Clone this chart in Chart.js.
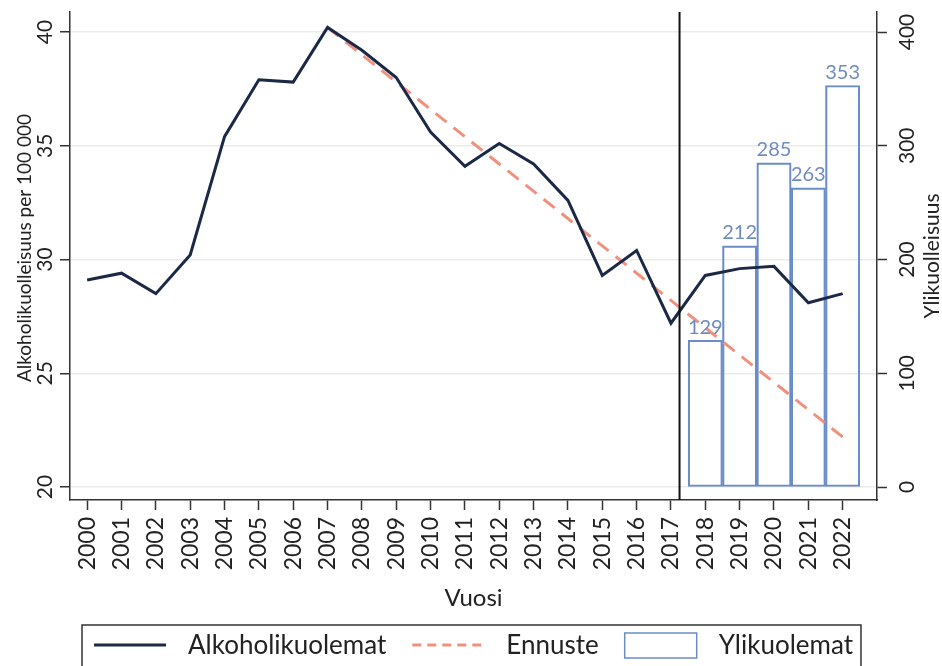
<!DOCTYPE html>
<html>
<head>
<meta charset="utf-8">
<script src="https://cdn.jsdelivr.net/npm/chart.js@4.4.1/dist/chart.umd.min.js"></script>
<style>
  html, body { margin: 0; padding: 0; background: #fff; overflow: hidden; }
</style>
</head>
<body>
<canvas id="deathChart" width="942" height="666"></canvas>
<script>
// data
const years = [2000, 2001, 2002, 2003, 2004, 2005, 2006, 2007, 2008, 2009, 2010, 2011,
               2012, 2013, 2014, 2015, 2016, 2017, 2018, 2019, 2020, 2021, 2022];
const alcoholRate = [29.1, 29.4, 28.5, 30.2, 35.4, 37.9, 37.8, 40.2, 39.2, 38.0, 35.6, 34.1,
                     35.1, 34.2, 32.6, 29.3, 30.4, 27.2, 29.3, 29.6, 29.7, 28.1, 28.5];
const forecastYears = [2007, 2022];
const forecastRate = [40.2, 22.2];
const excessYears = [2018, 2019, 2020, 2021, 2022];
const excessRate = [129, 212, 285, 263, 353];
const cutoffYear = 2017.25;

const leftTicks = [20, 25, 30, 35, 40];
const rightTicks = [0, 100, 200, 300, 400];

const navy = "#1b2946";
const salmon = "#f2907e";
const barBlue = "#6a8dc8";
const labelBlue = "#6f8cc0";
const axisColor = "#333333";
const textColor = "#222222";
const fontFamily = "Lato, 'Open Sans', sans-serif";

Chart.defaults.font.family = fontFamily;
Chart.defaults.font.size = 21;
Chart.defaults.color = textColor;

const extras = {
    id: "extras",
    afterDatasetsDraw(chart) {
        const ctx = chart.ctx;
        const area = chart.chartArea;
        const xs = chart.scales.x;

        // vertical line between observed years and excess years
        const cx = xs.getPixelForValue(cutoffYear);
        ctx.save();
        ctx.strokeStyle = "#111";
        ctx.lineWidth = 2;
        ctx.beginPath();
        ctx.moveTo(cx, area.top);
        ctx.lineTo(cx, area.bottom);
        ctx.stroke();

        // value labels above the bars
        const meta = chart.getDatasetMeta(2);
        ctx.fillStyle = labelBlue;
        ctx.font = "20px " + fontFamily;
        ctx.textAlign = "center";
        ctx.textBaseline = "bottom";
        meta.data.forEach((bar, i) => {
            ctx.fillText(String(excessRate[i]), bar.x, bar.y - 3);
        });
        ctx.restore();
    },
    afterDraw(chart) {
        const ctx = chart.ctx;
        const area = chart.chartArea;
        const yl = chart.scales.y;
        const yr = chart.scales.y1;
        const midY = (area.top + area.bottom) / 2;

        ctx.save();
        ctx.fillStyle = textColor;
        ctx.textAlign = "center";
        ctx.textBaseline = "middle";

        const drawUp = (text, x, y) => {
            ctx.save();
            ctx.translate(x, y);
            ctx.rotate(-Math.PI / 2);
            ctx.fillText(text, 0, 0);
            ctx.restore();
        };

        // y tick labels and titles, all reading bottom to top
        ctx.font = "21px " + fontFamily;
        leftTicks.forEach(v => drawUp(String(v), yl.right - 25, yl.getPixelForValue(v)));
        rightTicks.forEach(v => drawUp(String(v), yr.left + 30, yr.getPixelForValue(v)));
        drawUp("Ylikuolleisuus", yr.left + 55, midY);
        ctx.font = "19px " + fontFamily;
        drawUp("Alkoholikuolleisuus per 100 000", yl.left + 25, midY - 8);

        // legend in a frame below the x axis
        ctx.font = "26px " + fontFamily;
        ctx.textAlign = "left";
        const sampleW = 72, textGap = 22, itemGap = 26;
        const items = chart.data.datasets.map(ds => ({ ds, w: ctx.measureText(ds.label).width }));
        const total = items.reduce((s, it) => s + sampleW + textGap + it.w, 0) + itemGap * (items.length - 1);
        const top = chart.scales.x.bottom;
        const cy = top + 20;
        let x = (area.left + area.right) / 2 - total / 2;

        ctx.strokeStyle = axisColor;
        ctx.lineWidth = 1.5;
        ctx.strokeRect(x - 12, top, total + 20, 60);

        items.forEach(it => {
            const ds = it.ds;
            ctx.save();
            ctx.strokeStyle = ds.borderColor;
            ctx.lineWidth = ds.borderWidth;
            if (ds.type === "bar") {
                ctx.fillStyle = "#fff";
                ctx.fillRect(x, cy - 12, sampleW, 25);
                ctx.strokeRect(x, cy - 12, sampleW, 25);
            } else {
                ctx.setLineDash(ds.borderDash ? [9, 6] : []);
                ctx.beginPath();
                ctx.moveTo(x, cy);
                ctx.lineTo(x + sampleW, cy);
                ctx.stroke();
            }
            ctx.restore();
            ctx.fillText(ds.label, x + sampleW + textGap, cy + 1);
            x += sampleW + textGap + it.w + itemGap;
        });
        ctx.restore();
    }
};

new Chart(
    document.getElementById("deathChart"),
    {
        type: "line",

        data: {
            datasets: [
                {
                    label: "Alkoholikuolemat",
                    data: years.map((yr, i) => ({ x: yr, y: alcoholRate[i] })),
                    borderColor: navy,
                    borderWidth: 3,
                    pointRadius: 0,
                    tension: 0,
                    yAxisID: "y",
                    order: 1
                },
                {
                    label: "Ennuste",
                    data: forecastYears.map((yr, i) => ({ x: yr, y: forecastRate[i] })),
                    borderColor: salmon,
                    borderWidth: 3,
                    borderDash: [14, 9],
                    pointRadius: 0,
                    yAxisID: "y",
                    order: 2
                },
                {
                    type: "bar",
                    label: "Ylikuolemat",
                    data: excessYears.map((yr, i) => ({ x: yr, y: excessRate[i] })),
                    backgroundColor: "rgba(255,255,255,0)",
                    borderColor: barBlue,
                    borderWidth: 1.5,
                    borderSkipped: false,
                    barPercentage: 1,
                    categoryPercentage: 1,
                    yAxisID: "y1",
                    order: 3
                }
            ]
        },

        options: {
            responsive: false,
            animation: false,
            layout: {
                padding: { top: 12, left: 0, right: 0, bottom: 41 }
            },
            scales: {
                x: {
                    type: "linear",
                    min: 1999.5,
                    max: 2023,
                    offset: false,
                    afterBuildTicks: s => { s.ticks = years.map(v => ({ value: v })); },
                    afterFit: s => { s.height = 125; },
                    ticks: {
                        autoSkip: false,
                        minRotation: 90,
                        maxRotation: 90,
                        padding: 7,
                        font: { size: 23 },
                        callback: v => String(v)
                    },
                    grid: {
                        offset: false,
                        drawOnChartArea: false,
                        tickColor: axisColor,
                        tickLength: 10,
                        tickWidth: 1.5
                    },
                    border: { color: axisColor, width: 1.5 },
                    title: {
                        display: true,
                        text: "Vuosi",
                        font: { size: 24 },
                        padding: { top: 20, bottom: 12 }
                    }
                },
                y: {
                    position: "left",
                    min: 19.43,
                    max: 40.88,
                    afterBuildTicks: s => { s.ticks = leftTicks.map(v => ({ value: v })); },
                    afterFit: s => { s.width = 70; },
                    ticks: { display: false },
                    grid: {
                        color: "#ebebeb",
                        lineWidth: 1.5,
                        tickColor: axisColor,
                        tickLength: 10,
                        tickWidth: 1.5
                    },
                    border: { color: axisColor, width: 1.5 }
                },
                y1: {
                    position: "right",
                    min: -11.4,
                    max: 417.6,
                    afterBuildTicks: s => { s.ticks = rightTicks.map(v => ({ value: v })); },
                    afterFit: s => { s.width = 65; },
                    ticks: { display: false },
                    grid: {
                        drawOnChartArea: false,
                        tickColor: axisColor,
                        tickLength: 10,
                        tickWidth: 1.5
                    },
                    border: { color: axisColor, width: 1.5 }
                }
            },
            plugins: {
                tooltip: { enabled: false },
                legend: { display: false }
            }
        },

        plugins: [extras]
    }
);
</script>
</body>
</html>
